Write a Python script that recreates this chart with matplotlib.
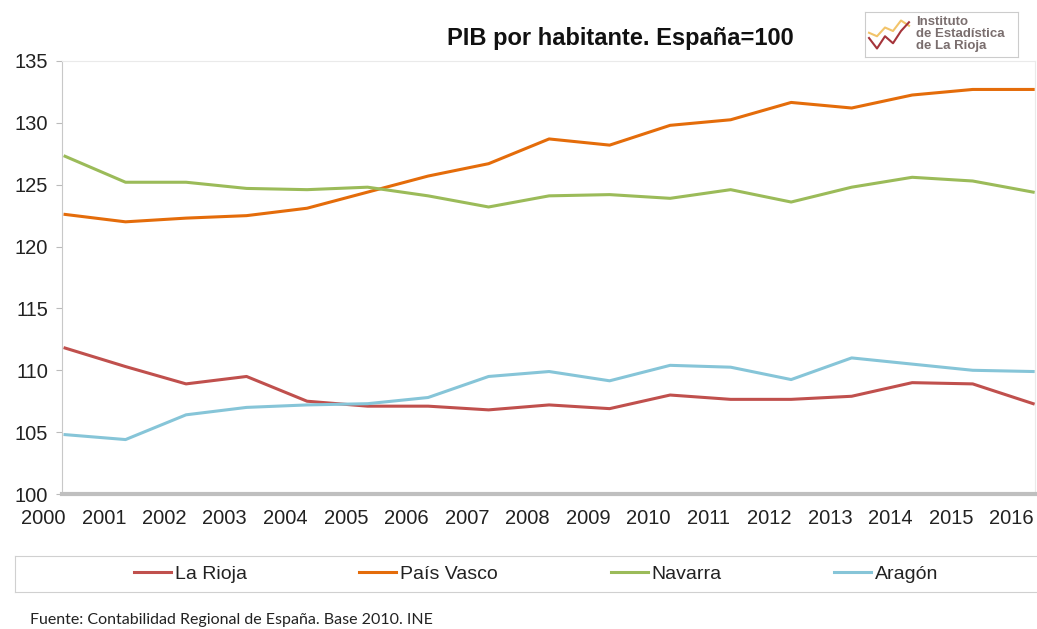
import matplotlib
matplotlib.use("Agg")
import matplotlib.pyplot as plt
import matplotlib.transforms as mtransforms
from matplotlib.lines import Line2D

years = ["2000", "2001", "2002", "2003", "2004", "2005", "2006", "2007", "2008",
         "2009", "2010", "2011", "2012", "2013", "2014", "2015", "2016"]

la_rioja = [111.8, 110.3, 108.9, 109.5, 107.5, 107.1, 107.1, 106.8, 107.2,
            106.9, 108.0, 107.65, 107.65, 107.9, 109.0, 108.9, 107.3]
pais_vasco = [122.6, 122.0, 122.3, 122.5, 123.1, 124.4, 125.7, 126.7, 128.7,
              128.2, 129.8, 130.25, 131.65, 131.2, 132.25, 132.7, 132.7]
navarra = [127.3, 125.2, 125.2, 124.7, 124.6, 124.8, 124.1, 123.2, 124.1,
           124.2, 123.9, 124.6, 123.6, 124.8, 125.6, 125.3, 124.4]
aragon = [104.8, 104.4, 106.4, 107.0, 107.2, 107.3, 107.8, 109.5, 109.9,
          109.15, 110.4, 110.25, 109.25, 111.0, 110.5, 110.0, 109.9]

series_names = ["La Rioja", "País Vasco", "Navarra", "Aragón"]
series_colors = ["#C0504D", "#E46C0A", "#9BBB59", "#86C5D8"]
series_values = [la_rioja, pais_vasco, navarra, aragon]

y_ticks = [100, 105, 110, 115, 120, 125, 130, 135]

# decorative logo polylines
logo_yellow = [0.55, 0.45, 0.7, 0.6, 0.9, 0.75]
logo_red = [0.4, 0.1, 0.45, 0.25, 0.6, 0.85]

plt.rcParams["font.family"] = ["Liberation Sans", "DejaVu Sans"]

fig = plt.figure(figsize=(10.37, 6.29), dpi=100)
ax = fig.add_axes([62 / 1037, 1 - 494 / 629, (1035 - 62) / 1037, (494 - 61) / 629])

x = list(range(len(years)))
for name, col, vals in zip(series_names, series_colors, series_values):
    ax.plot(x, vals, color=col, lw=2.2, label=name, solid_joinstyle="round")

ax.set_xlim(-0.05, 16.03)
ax.set_ylim(100, 135)
ax.set_yticks(y_ticks)
ax.set_yticklabels([str(t) for t in y_ticks], fontsize=14.5, color="#222222")
ax.tick_params(axis="y", length=4, width=0.8, color="#BBBBBB", pad=6)
ax.set_xticks([])

for side in ["top", "right"]:
    ax.spines[side].set_color("#EAEAEA")
    ax.spines[side].set_linewidth(0.8)
ax.spines["left"].set_color("#C8C8C8")
ax.spines["left"].set_linewidth(0.8)
ax.spines["bottom"].set_color("#BFBFBF")
ax.spines["bottom"].set_linewidth(3)

trans = mtransforms.blended_transform_factory(ax.transData, ax.transAxes)
for i, lab in enumerate(years):
    ax.text(i - 0.36, -0.057, lab, transform=trans, ha="center", va="center",
            fontsize=14.5, color="#222222")

fig.text(620 / 1037, 1 - 38 / 629, "PIB por habitante. España=100", ha="center",
         va="center", fontsize=17, fontweight="bold", color="#111111")

# legend box
leg_ax = fig.add_axes([15 / 1037, 1 - 592 / 629, 1022 / 1037, 36 / 629])
leg_ax.set_xlim(0, 1022)
leg_ax.set_ylim(0, 36)
leg_ax.set_xticks([])
leg_ax.set_yticks([])
for s in leg_ax.spines.values():
    s.set_color("#D0D0D0")
    s.set_linewidth(0.8)
leg_ax.spines["right"].set_visible(False)
handles = [Line2D([0], [0], color=c, lw=2.2) for c in series_colors]
leg = leg_ax.legend(handles, series_names, loc="center", ncol=4, frameon=False,
                    fontsize=14, handlelength=1.9, handletextpad=0.2,
                    columnspacing=5.8, bbox_to_anchor=(0.51, 0.5))
for t in leg.get_texts():
    t.set_color("#222222")

fig.text(30 / 1037, 1 - 620 / 629, "Fuente: Contabilidad Regional de España. Base 2010. INE",
         ha="left", va="center", fontsize=11.5, color="#222222", family=["Lato", "DejaVu Sans"])

# logo
logo_ax = fig.add_axes([865 / 1037, 1 - 57 / 629, 153 / 1037, 45 / 629])
logo_ax.set_xlim(0, 153)
logo_ax.set_ylim(0, 45)
logo_ax.set_xticks([])
logo_ax.set_yticks([])
for s in logo_ax.spines.values():
    s.set_color("#CCCCCC")
    s.set_linewidth(0.8)
lx = [4 + 8 * k for k in range(len(logo_yellow))]
logo_ax.plot(lx, [5 + 35 * v for v in logo_yellow], color="#F2C46A", lw=1.5)
logo_ax.plot(lx, [5 + 35 * v for v in logo_red], color="#A5343A", lw=1.5)
logo_ax.text(51, 23, "Instituto\nde Estadística\nde La Rioja", ha="left", va="center",
             fontsize=9.5, fontweight="bold", color="#7A6E6E", linespacing=0.95)

fig.savefig("out.png", dpi=100)
